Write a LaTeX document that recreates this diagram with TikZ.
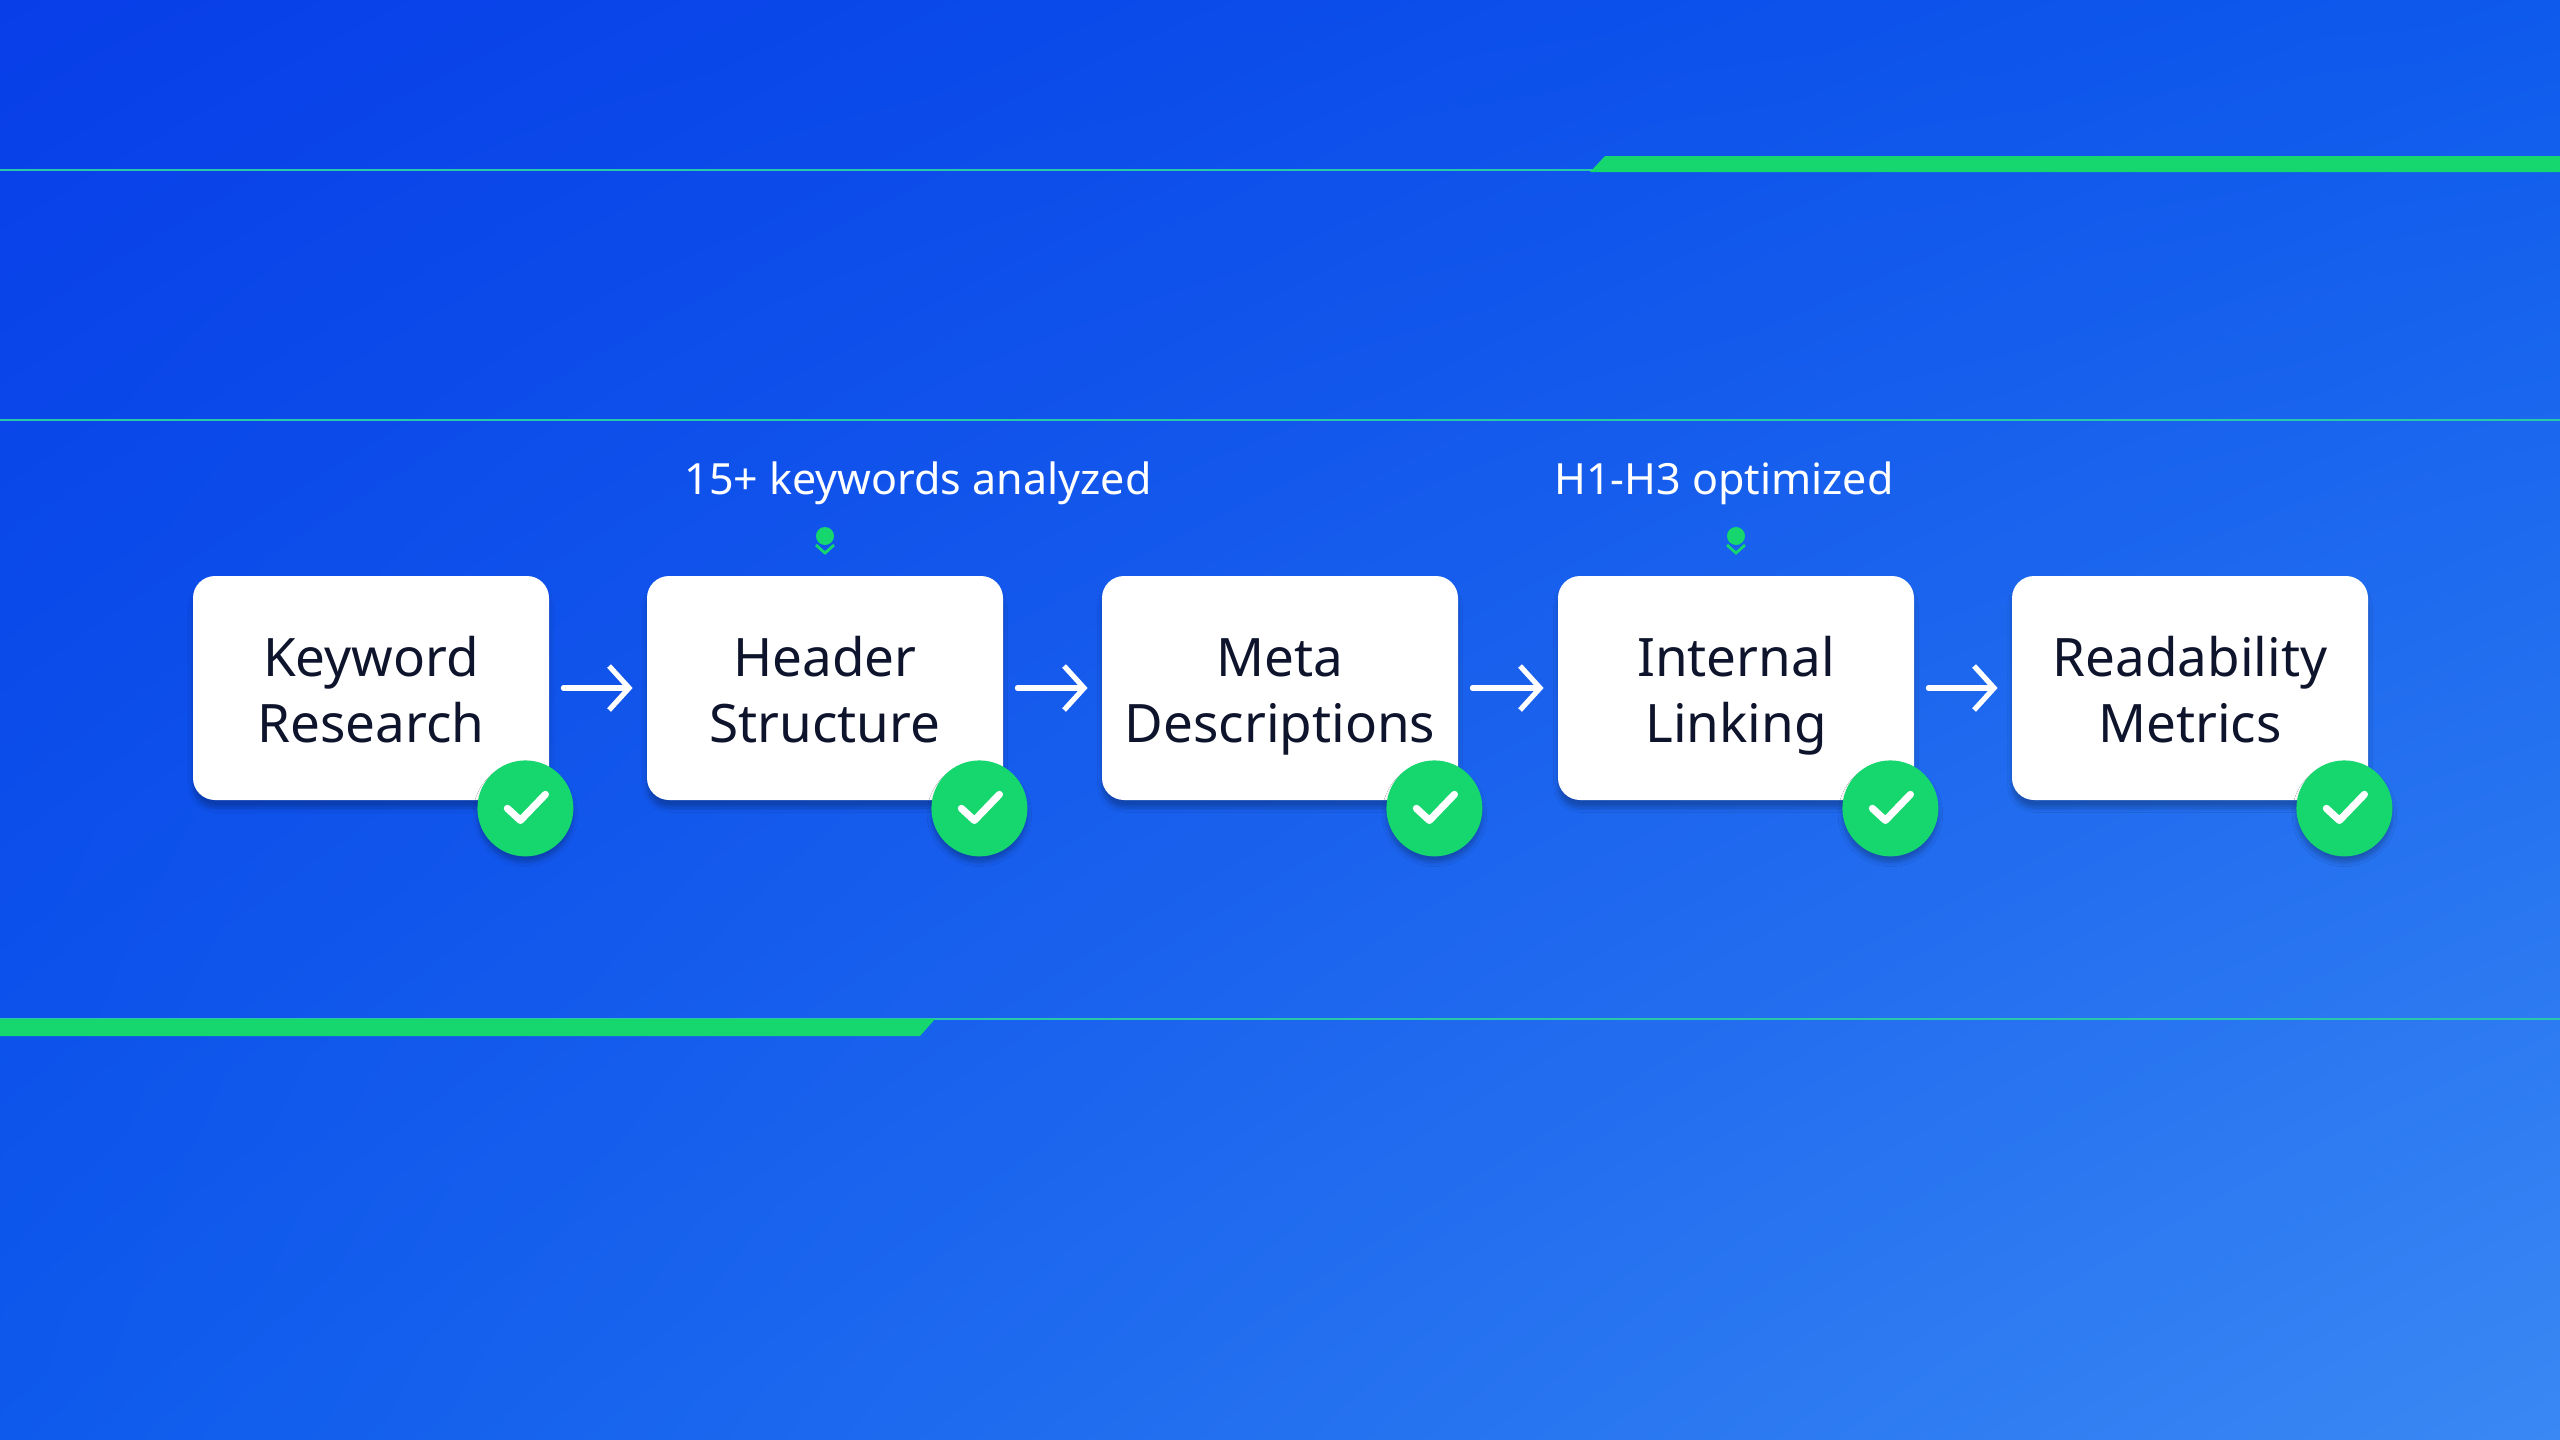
\documentclass[tikz,border=0pt]{standalone}
\usepackage{fontspec}
\setmainfont{Noto Sans}
\usetikzlibrary{shadows.blur,shadings,arrows.meta}
\definecolor{bgA}{RGB}{8,62,232}
\definecolor{bgM}{RGB}{14,90,236}
\definecolor{bgB}{RGB}{58,136,244}
\definecolor{grn}{RGB}{22,214,110}
\definecolor{lnc}{RGB}{40,200,170}
\definecolor{ink}{RGB}{14,20,44}
\begin{document}
\begin{tikzpicture}[x=0.5pt,y=-0.5pt,
  box/.style={draw=none,fill=white,rounded corners=11pt,minimum width=178pt,minimum height=112pt,align=center,font=\fontsize{26.5}{33}\selectfont,text=ink,blur shadow={shadow blur steps=8,shadow xshift=0pt,shadow yshift=-4pt,shadow opacity=25}},
  chk/.style={circle,fill=grn,minimum size=48pt,inner sep=0pt,blur shadow={shadow blur steps=6,shadow xshift=0pt,shadow yshift=-3pt,shadow opacity=25}},
  arr/.style={draw=white,line width=2.6pt,line cap=round,line join=round,-{Straight Barb[length=10pt,width=22pt,line width=2.6pt]}},
  lbl/.style={text=white,font=\fontsize{21.5}{25}\selectfont},
  thin/.style={draw=lnc,line width=1.2pt}]
\useasboundingbox (0,0) rectangle (2560,1440);
\shade[upper left=bgA,upper right=bgM,lower left=bgM,lower right=bgB] (0,0) rectangle (2560,1440);
% lines
\draw[thin] (0,170) -- (2560,170);
\fill[grn] (1605,156) -- (2560,156) -- (2560,172) -- (1590,172) -- cycle;
\draw[thin] (0,420) -- (2560,420);
\draw[thin] (0,1019) -- (2560,1019);
\fill[grn] (0,1019) -- (935,1019) -- (920,1036) -- (0,1036) -- cycle;
% boxes
\node[box] (b1) at (371,688) {};
\node[box] (b2) at (825,688) {};
\node[box] (b3) at (1280,688) {};
\node[box] (b4) at (1736,688) {};
\node[box] (b5) at (2190,688) {};
\foreach \i/\t in {1/{Keyword\strut\\Research\strut},2/{Header\strut\\Structure\strut},3/{Meta\strut\\Descriptions\strut},4/{Internal\strut\\Linking\strut},5/{Readability\strut\\Metrics\strut}}{
  \node[align=center,font=\fontsize{26.5}{33}\selectfont,text=ink] (t\i) at ([yshift=-4pt]b\i.center) {\t};
}
\foreach \i in {1,...,5}{
  \node[chk] (c\i) at ([xshift=-12pt,yshift=-4pt]b\i.south east) {};
  \draw[white,line width=3.6pt,line cap=round,line join=round] ([shift={(-9pt,0pt)}]c\i.center) -- ([shift={(-2.5pt,-6pt)}]c\i.center) -- ([shift={(10pt,7pt)}]c\i.center);
}
\foreach \a/\b in {b1/b2,b2/b3,b3/b4,b4/b5}{
  \draw[arr] ([xshift=7pt]\a.east) -- ([xshift=-7pt]\b.west);
}
% labels
\node[lbl] (l1) at (918,483) {15+ keywords analyzed};
\node[lbl] (l2) at (1724,483) {H1-H3 optimized};
\foreach \x/\n in {825/m1,1736/m2}{
  \fill[grn] (\x,536) circle (4.5pt);
  \draw[grn,line width=1.4pt] (\x-9,545) -- (\x,553) -- (\x+9,545);
  \coordinate (\n) at (\x,550);
}
\end{tikzpicture}
\end{document}
